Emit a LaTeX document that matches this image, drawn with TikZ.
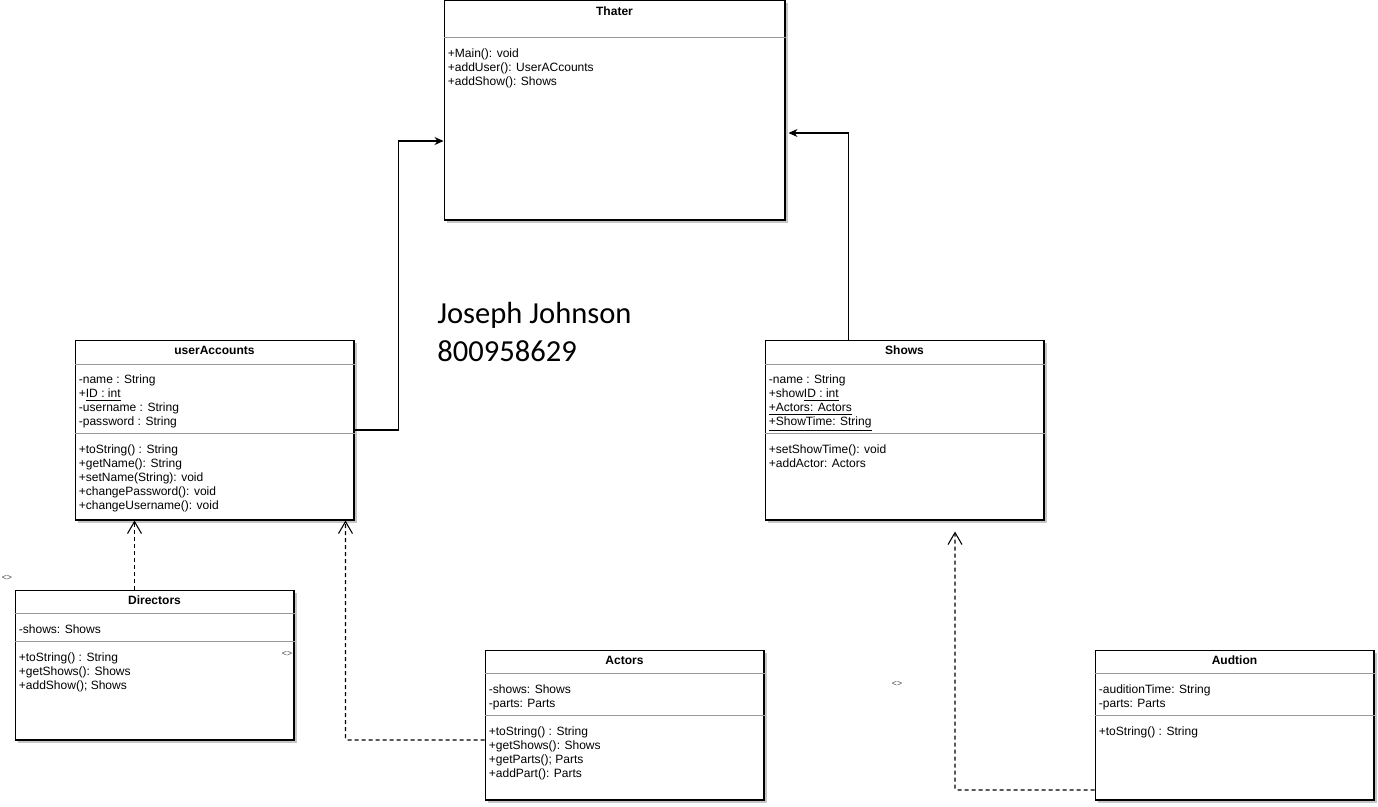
\documentclass[tikz,border=0pt]{standalone}
\usepackage{fontspec}
\setmainfont{Liberation Sans}
\newfontfamily\namefont{Carlito}
\usetikzlibrary{arrows.meta, calc, shadows}

\begin{document}
\begin{tikzpicture}[
    x=0.02cm, y=-0.02cm,
    umlclass/.style = {rectangle, draw, line width=0.6pt, fill=white, inner sep=0pt, drop shadow={shadow xshift=0.06cm, shadow yshift=-0.06cm, fill=gray!45, opacity=1}},
    classname/.style = {font=\fontsize{6.85}{8}\selectfont\bfseries, inner sep=0pt},
    members/.style = {font=\fontsize{6.85}{7.97}\selectfont, align=left, anchor=north west, inner sep=0pt},
    divider/.style = {gray!80, line width=0.6pt},
    assoc/.style = {line width=0.6pt, -{Stealth[length=0.18cm, width=0.16cm]}},
    depend/.style = {line width=0.6pt, dash pattern=on 0.08cm off 0.06cm, rounded corners=0.04cm, -{Straight Barb[length=0.24cm, width=0.28cm]}},
    stereo/.style = {font=\fontsize{5}{6}\selectfont, text=gray!60!black, inner sep=0pt}
]
    \useasboundingbox (0,0) rectangle (1378,806);

    % Main class
    \node[umlclass, minimum width=6.82cm, minimum height=4.4cm] (thater) at (614.5,110) {};
    \node[classname] (thater name) at ($(thater.north)+(0,12)$) {Thater};
    \draw[divider] ($(thater.north west)+(0,38)$) -- ($(thater.north east)+(0,38)$);
    \node[members] (thater ops) at ($(thater.north west)+(4,49)$) {+Main(): void\\+addUser(): UserACcounts\\+addShow(): Shows};

    % Second row
    \node[umlclass, minimum width=5.58cm, minimum height=3.6cm] (useraccounts) at (214.5,430) {};
    \node[classname] (useraccounts name) at ($(useraccounts.north)+(0,11)$) {userAccounts};
    \draw[divider] ($(useraccounts.north west)+(0,25)$) -- ($(useraccounts.north east)+(0,25)$);
    \node[members] (useraccounts attr) at ($(useraccounts.north west)+(4,35)$) {-name : String\\+\underline{ID : int}\\-username : String\\-password : String};
    \draw[divider] ($(useraccounts.north west)+(0,94)$) -- ($(useraccounts.north east)+(0,94)$);
    \node[members] (useraccounts ops) at ($(useraccounts.north west)+(4,105)$) {+toString() : String\\+getName(): String\\+setName(String): void\\+changePassword(): void\\+changeUsername(): void};

    \node[umlclass, minimum width=5.58cm, minimum height=3.6cm] (shows) at (904.5,430) {};
    \node[classname] (shows name) at ($(shows.north)+(0,11)$) {Shows};
    \draw[divider] ($(shows.north west)+(0,25)$) -- ($(shows.north east)+(0,25)$);
    \node[members] (shows attr) at ($(shows.north west)+(4,35)$) {-name : String\\+show\underline{ID : int}\\\underline{+Actors: Actors}\\\underline{+ShowTime: String}};
    \draw[divider] ($(shows.north west)+(0,94)$) -- ($(shows.north east)+(0,94)$);
    \node[members] (shows ops) at ($(shows.north west)+(4,105)$) {+setShowTime(): void\\+addActor: Actors};

    % Bottom row
    \node[umlclass, minimum width=5.58cm, minimum height=3cm] (directors) at (154.5,665) {};
    \node[classname] (directors name) at ($(directors.north)+(0,11)$) {Directors};
    \draw[divider] ($(directors.north west)+(0,24)$) -- ($(directors.north east)+(0,24)$);
    \node[members] (directors attr) at ($(directors.north west)+(4,35)$) {-shows: Shows};
    \draw[divider] ($(directors.north west)+(0,52)$) -- ($(directors.north east)+(0,52)$);
    \node[members] (directors ops) at ($(directors.north west)+(4,63)$) {+toString() : String\\+getShows(): Shows\\+addShow(); Shows};

    \node[umlclass, minimum width=5.58cm, minimum height=3cm] (actors) at (624.5,725) {};
    \node[classname] (actors name) at ($(actors.north)+(0,11)$) {Actors};
    \draw[divider] ($(actors.north west)+(0,24)$) -- ($(actors.north east)+(0,24)$);
    \node[members] (actors attr) at ($(actors.north west)+(4,35)$) {-shows: Shows\\-parts: Parts};
    \draw[divider] ($(actors.north west)+(0,66)$) -- ($(actors.north east)+(0,66)$);
    \node[members] (actors ops) at ($(actors.north west)+(4,77)$) {+toString() : String\\+getShows(): Shows\\+getParts(); Parts\\+addPart(): Parts};

    \node[umlclass, minimum width=5.58cm, minimum height=3cm] (audtion) at (1234.5,725) {};
    \node[classname] (audtion name) at ($(audtion.north)+(0,11)$) {Audtion};
    \draw[divider] ($(audtion.north west)+(0,24)$) -- ($(audtion.north east)+(0,24)$);
    \node[members] (audtion attr) at ($(audtion.north west)+(4,35)$) {-auditionTime: String\\-parts: Parts};
    \draw[divider] ($(audtion.north west)+(0,66)$) -- ($(audtion.north east)+(0,66)$);
    \node[members] (audtion ops) at ($(audtion.north west)+(4,77)$) {+toString() : String};

    % Stereotype marks
    \node[stereo] (mark a) at (7,578) {<>};
    \node[stereo] (mark b) at (287,654) {<>};
    \node[stereo] (mark c) at (897,684) {<>};

    % Author
    \node[font=\namefont\fontsize{17.4}{21.5}\selectfont, align=left, anchor=north west, inner sep=0pt] (author) at (437,302) {Joseph Johnson\\800958629};

    % Associations
    \draw[assoc] (useraccounts.east) -- ++(44,0) |- ($(thater.west)+(0,31)$);
    \draw[assoc] ($(shows.north)+(-56,0)$) |- ($(thater.east)+(3,23)$);

    % Dependencies
    \coordinate (directors top) at ($(directors.north)+(-20,0)$);
    \draw[depend] (directors top) -- (directors top |- useraccounts.south);
    \draw[depend] ($(actors.west)+(0,15)$) -| ($(useraccounts.south east)+(-9,0)$);
    \draw[depend] ($(audtion.west)+(0,65)$) -| ($(shows.south)+(50.5,11)$);
\end{tikzpicture}
\end{document}
